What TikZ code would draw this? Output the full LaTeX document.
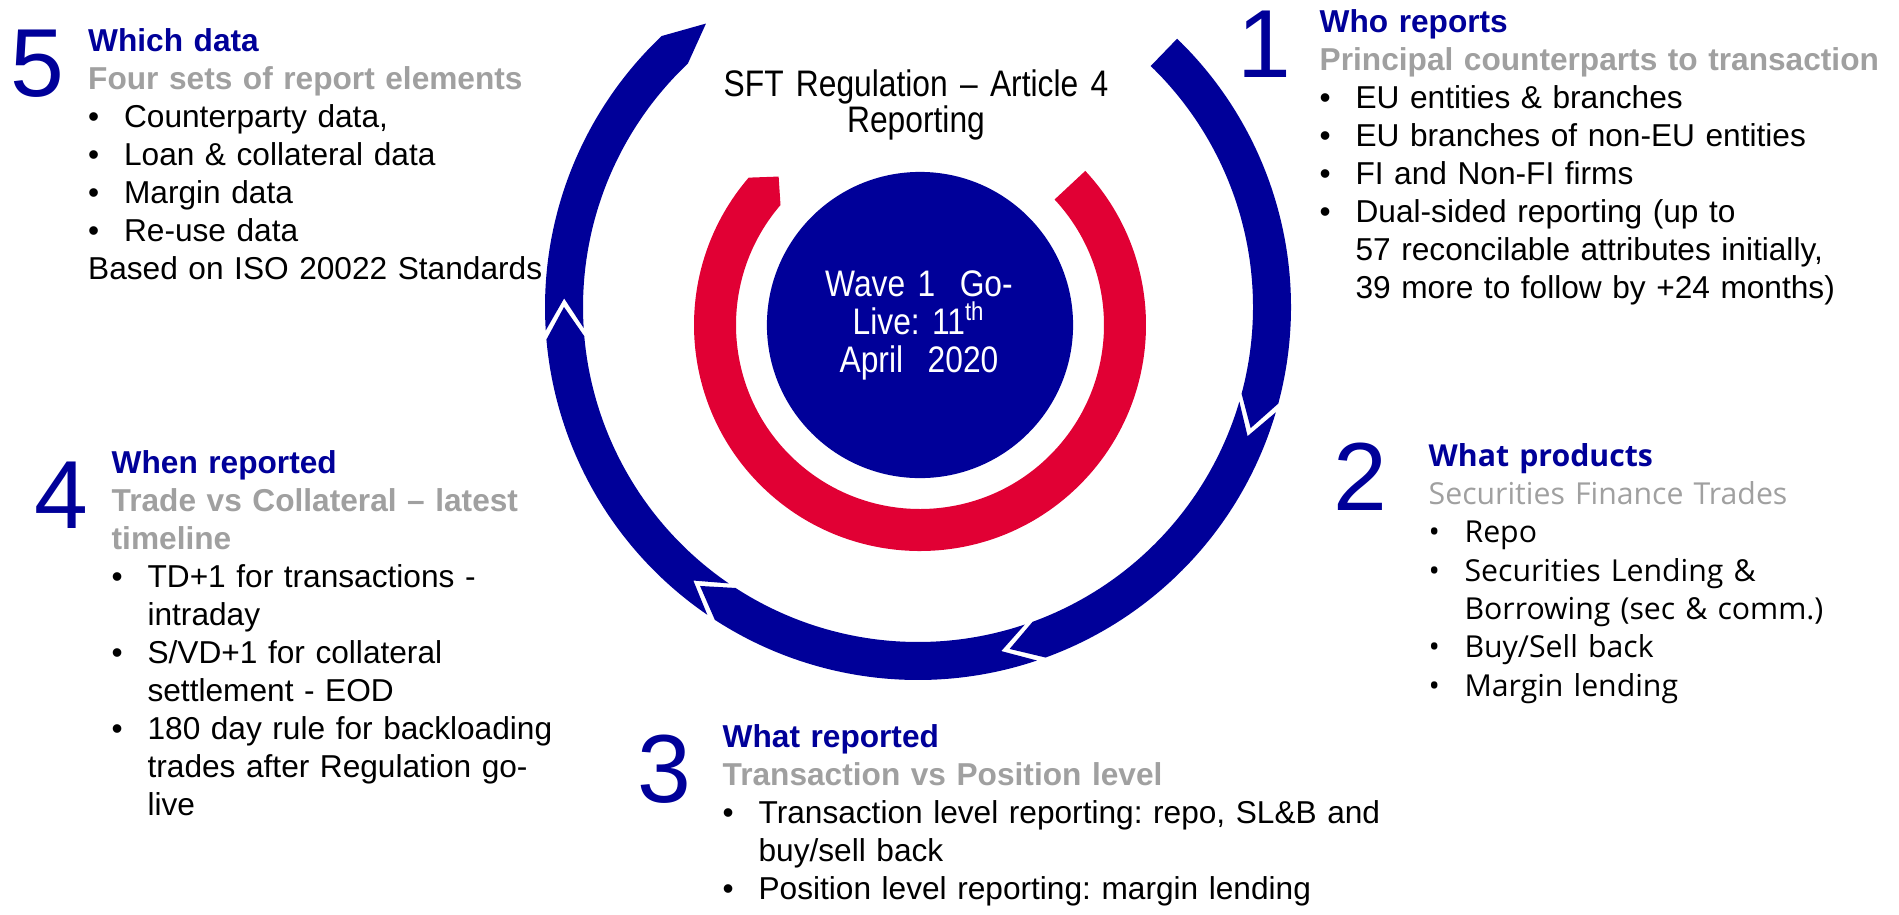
\documentclass[tikz,border=0pt]{standalone}
\usepackage{fontspec}
\setmainfont{Liberation Sans}
\newfontfamily\condfont[FakeStretch=0.86]{Liberation Sans}
\newfontfamily\prodfont{Open Sans}
\usepackage{xcolor}
\definecolor{sftblue}{RGB}{0,0,153}
\definecolor{sftred}{RGB}{225,0,52}
\definecolor{subgray}{RGB}{160,160,160}
\frenchspacing

\newcommand{\sftbul}{\makebox[10.2pt][l]{\textbullet}}
\newcommand{\contind}{\hspace*{10.2pt}}
% one piece of the outer ring: notch at #1, point at #2, point depth #3
\newcommand{\ringseg}[3]{%
  \pgfmathsetmacro\segA{#1+5-1.4}%
  \pgfmathsetmacro\segB{#2+#3}%
  \fill[ring] (\segA:373) arc[start angle=\segA, end angle=\segB, radius=373]
    -- (#2:354) -- (\segB:335) arc[start angle=\segB, end angle=\segA, radius=335]
    -- (#1-1.4:354) -- cycle;}

\begin{document}
\begin{tikzpicture}[
                x=0.01cm, y=0.01cm,
                ring/.style={fill=sftblue},
                hub/.style={circle, fill=sftblue, minimum size=3.06cm, inner sep=0pt},
                num/.style={anchor=base west, inner sep=0pt, text=sftblue, font=\fontsize{27.5pt}{30pt}\selectfont},
                body/.style={anchor=base west, inner sep=0pt, align=left, text width=8cm, font=\fontsize{9pt}{10.81pt}\selectfont},
                prod/.style={anchor=base west, inner sep=0pt, align=left, text width=8cm, font=\prodfont\fontsize{8.6pt}{10.9pt}\selectfont},
                cond/.style={anchor=base, inner sep=0pt, align=center, text width=5cm, font=\condfont\fontsize{10.5pt}{10.24pt}\selectfont}
            ]
            \useasboundingbox (0,0) rectangle (1899,-914);

            % outer cycle
            \begin{scope}[shift={(918,-307)}]
                \fill[ring] (46:373) arc[start angle=46, end angle=-15, radius=373]
                    -- (-20:354) -- (-15:335) arc[start angle=-15, end angle=46, radius=335] -- cycle;
                \ringseg{-20}{-75}{5}
                \ringseg{-75}{-128}{5}
                \ringseg{-128}{-180}{5}
                \ringseg{-180}{-233.2}{6.6}
            \end{scope}

            % inner red ring
            \begin{scope}[shift={(920,-325)}]
                \fill[sftred] (43:226) arc[start angle=43, end angle=-220.7, radius=226]
                    -- (-226.4:205) -- (-220.7:184) arc[start angle=-220.7, end angle=43, radius=184] -- cycle;
            \end{scope}

            \node[hub] (hub) at (920,-325) {};
            \node[cond, text=white, font=\condfont\fontsize{10.5pt}{10.81pt}\selectfont] (golive) at (919,-296)
                {Wave 1\ \ Go-\\Live: 11\textsuperscript{th}\\April\ \ 2020};
            \node[cond] (title) at (916,-96) {SFT Regulation \textendash{} Article 4\\Reporting};

            % numbers
            \node[num] (n1) at (1237,-77) {1};
            \node[num] (n2) at (1333,-510) {2};
            \node[num] (n3) at (637,-802) {3};
            \node[num] (n4) at (33.5,-528) {4};
            \node[num] (n5) at (10,-96) {5};

            % texts
            \node[body] (who) at (1319,-32) {%
                {\color{sftblue}\bfseries Who reports}\\
                {\color{subgray}\bfseries Principal counterparts to transaction}\\
                \sftbul EU entities \& branches\\
                \sftbul EU branches of non-EU entities\\
                \sftbul FI and Non-FI firms\\
                \sftbul Dual-sided reporting (up to\\
                \contind 57 reconcilable attributes initially,\\
                \contind 39 more to follow by +24 months)};
            \node[prod] (what) at (1428,-466) {%
                {\color{sftblue}\bfseries What products}\\
                {\color{subgray}Securities Finance Trades}\\
                \sftbul Repo\\
                \sftbul Securities Lending \&\\
                \contind Borrowing (sec \& comm.)\\
                \sftbul Buy/Sell back\\
                \sftbul Margin lending};
            \node[body] (level) at (722,-747) {%
                {\color{sftblue}\bfseries What reported}\\
                {\color{subgray}\bfseries Transaction vs Position level}\\
                \sftbul Transaction level reporting: repo, SL\&B and\\
                \contind buy/sell back\\
                \sftbul Position level reporting: margin lending};
            \node[body] (when) at (111,-473) {%
                {\color{sftblue}\bfseries When reported}\\
                {\color{subgray}\bfseries Trade vs Collateral \textendash{} latest\\ timeline}\\
                \sftbul TD+1 for transactions -\\
                \contind intraday\\
                \sftbul S/VD+1 for collateral\\
                \contind settlement - EOD\\
                \sftbul 180 day rule for backloading\\
                \contind trades after Regulation go-\\
                \contind live};
            \node[body] (data) at (87.5,-51) {%
                {\color{sftblue}\bfseries Which data}\\
                {\color{subgray}\bfseries Four sets of report elements}\\
                \sftbul Counterparty data,\\
                \sftbul Loan \& collateral data\\
                \sftbul Margin data\\
                \sftbul Re-use data\\
                Based on ISO 20022 Standards};
        \end{tikzpicture}
\end{document}
